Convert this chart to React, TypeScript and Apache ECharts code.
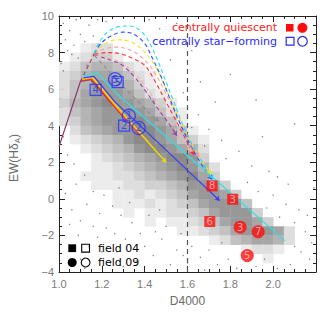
import React, { useEffect, useRef } from "react";
import * as echarts from "echarts";

// ---- 2D histogram (gray levels 0-8), D4000 bins of 0.05 from 1.00, EW bins of 0.5; first row = EW 8.0-8.5
const histD0 = 1.0;
const histBinW = 0.05;
const histBinH = 0.5;
const histTopEW = 8.0;
const histRows = [
  "001220000000000000000000",
  "012331000000000000000000",
  "124554210000000000000000",
  "235665421000000000000000",
  "245776531000000000000000",
  "246777642100000000000000",
  "356787765310000000000000",
  "245677776421000000000000",
  "235677787641000000000000",
  "024567788764100000000000",
  "012345788764310000000000",
  "001234578876520000000000",
  "000123456788730000000000",
  "000112345678752000000000",
  "001112234567863000000000",
  "000111223345776300000000",
  "000001121234677630000000",
  "000001112123467774000000",
  "000000101122346777300000",
  "000000001011234677630000",
  "000000000001123467776200",
  "000000000000001245665200",
  "000000000000000001221000",
  "000000000000000000010000",
];

// ---- scattered individual galaxies
const dots = [
  [1.02, 9.6], [1.05, 9.2], [1.08, 9.8], [1.03, 8.7], [1.07, 8.4], [1.1, 9.0], [1.12, 8.6], [1.04, 8.1],
  [1.09, 7.7], [1.01, 7.4], [1.06, 7.9], [1.14, 9.5], [1.18, 9.8], [1.22, 9.7], [1.16, 8.9], [1.42, 9.8],
  [1.47, 9.3], [1.55, 9.6], [1.13, 7.3], [1.02, 7.0],
  [1.62, 8.1], [1.66, 6.4], [1.73, 5.3], [1.8, 6.8], [1.92, 5.4], [1.65, 4.6], [1.7, 3.8], [1.76, 3.2],
  [1.62, 3.9], [1.84, 2.6], [1.95, 3.4], [2.1, 4.1], [1.68, 2.9], [1.78, 2.2], [1.9, 1.8], [2.02, 1.2],
  [1.58, 5.8], [1.52, 7.6],
  [1.88, 0.9], [1.93, 0.4], [2.0, 0.2], [2.06, -0.3], [2.12, -0.6], [1.97, -0.5], [2.03, -1.0], [2.1, -1.3],
  [2.15, -1.8], [2.18, -2.4], [2.13, -2.9], [2.17, -3.3], [2.08, -3.6], [2.1, -2.6], [2.16, -0.9], [2.19, 0.6],
  [1.98, 1.5], [2.07, 0.8],
  [1.62, -2.6], [1.66, -3.2], [1.7, -2.8], [1.74, -3.6], [1.79, -3.3], [1.83, -3.8], [1.92, -3.7], [1.96, -3.3],
  [2.02, -3.8], [1.6, -3.5], [1.68, -3.9], [1.76, -2.4],
  [1.06, -0.6], [1.1, -1.2], [1.13, -0.3], [1.16, 0.4], [1.08, 0.8], [1.12, 1.3], [1.19, -0.8], [1.22, -1.6],
  [1.25, -0.4], [1.18, -2.1], [1.14, -2.6], [1.1, -3.3], [1.27, -2.9], [1.31, -2.2], [1.34, -1.3], [1.29, -0.9],
  [1.36, -3.4], [1.4, -2.6], [1.44, -3.1], [1.48, -2.2], [1.52, -3.6], [1.55, -2.8], [1.57, -1.9], [1.5, -1.5],
  [1.45, -1.8], [1.38, -1.9], [1.24, -3.5], [1.2, -2.9], [1.16, -1.5], [1.09, -2.0], [1.05, -1.4], [1.03, 0.3],
  [1.07, 1.9], [1.04, 2.4], [1.33, -0.2], [1.21, 0.2], [1.28, 0.6], [1.26, -1.9], [1.42, -0.9], [1.47, -0.6],
  [1.58, -3.1], [1.12, -3.8], [1.3, -3.7], [1.02, 3.4], [1.01, 1.5],
];

// ---- dashed model tracks
const dashCyan = [[1.165, 7.95], [1.19, 8.6], [1.23, 9.15], [1.28, 9.42], [1.33, 9.45], [1.38, 9.2], [1.42, 8.6], [1.46, 7.6], [1.49, 6.7], [1.53, 5.5], [1.58, 4.0], [1.63, 2.8], [1.68, 1.8], [1.72, 1.1]];
const dashBlue = [[1.165, 7.95], [1.2, 8.55], [1.25, 8.95], [1.3, 9.12], [1.35, 9.0], [1.4, 8.5], [1.44, 7.6], [1.48, 6.6], [1.52, 5.4], [1.57, 4.0], [1.62, 2.8], [1.67, 1.8], [1.715, 1.05]];
const dashYellow = [[1.165, 7.95], [1.21, 8.45], [1.27, 8.7], [1.32, 8.65], [1.37, 8.35], [1.41, 7.9], [1.45, 7.25], [1.5, 6.0], [1.55, 4.7], [1.6, 3.5], [1.65, 2.4], [1.71, 1.35]];
const dashPink = [[1.165, 7.95], [1.21, 8.2], [1.27, 8.3], [1.33, 8.15], [1.38, 7.8], [1.43, 7.2], [1.48, 6.2], [1.53, 5.0], [1.58, 3.8], [1.62, 2.9], [1.655, 2.3]];
const dashRed = [[1.165, 7.9], [1.22, 8.0], [1.28, 7.95], [1.34, 7.7], [1.4, 7.3], [1.45, 6.4], [1.5, 5.3], [1.55, 4.2], [1.59, 3.3], [1.63, 2.4]];
const dashSalmon = [[1.165, 7.9], [1.22, 7.75], [1.28, 7.5], [1.34, 7.0], [1.4, 6.2], [1.46, 5.2], [1.52, 4.2], [1.58, 3.2], [1.62, 2.6]];
const dashPurple = [[1.165, 7.9], [1.2, 7.75], [1.25, 7.55], [1.29, 7.36], [1.35, 6.7], [1.41, 5.8], [1.47, 4.8], [1.52, 4.0], [1.55, 3.45]];
const dashGray = [[1.165, 7.85], [1.2, 7.4], [1.26, 6.63], [1.32, 5.9], [1.38, 5.2], [1.43, 4.6], [1.465, 4.25]];
const dashBrown = [[1.1, 6.42], [1.165, 7.95]];

// ---- solid model tracks
const trackBrown = [[1.0, 2.85], [1.1, 6.42], [1.148, 6.52], [1.22, 5.55], [1.3, 4.5]];
const trackRed = [[1.105, 6.47], [1.151, 6.57], [1.26, 5.05], [1.38, 3.45]];
const trackOrange = [[1.108, 6.52], [1.154, 6.61], [1.26, 5.12], [1.45, 2.62]];
const trackYellow = [[1.111, 6.56], [1.157, 6.65], [1.26, 5.2], [1.5, 2.0]];
const trackBlue = [[1.115, 6.62], [1.163, 6.7], [1.26, 5.32], [1.75, -0.1]];
const trackCyan = [[1.112, 6.74], [1.18, 6.88], [1.27, 5.75], [1.74, 0.95], [2.055, -2.3]];

// ---- galaxies: [D4000, EW(HdA), id]
const sfField04 = [[1.171, 5.96, "4"], [1.274, 6.38, "5"], [1.304, 4.0, "2"]];
const sfField09 = [[1.262, 6.54, "5"], [1.326, 4.54, "1"], [1.372, 3.88, "2"]];
const qField04 = [[1.715, 0.71, "8"], [1.811, -0.02, "3"], [1.704, -1.24, "6"]];
const qField09 = [[1.846, -1.55, "3"], [1.93, -1.8, "7"], [1.879, -3.1, "5"]];

const xTickMin = 1.0;
const xTickMax = 2.2;
const yTickMin = -4;
const yTickMax = 10;
const divideD4000 = 1.6;

const FONT = "DejaVu Sans";

function grayOf(level: number) {
  const g = Math.round(250 - 14 * level);
  return `rgb(${g},${g},${g})`;
}

function arrowSeg(pts: number[][]) {
  const b = pts[pts.length - 1];
  const a = pts[pts.length - 2];
  const t = 0.2;
  return [[b[0] - t * (b[0] - a[0]), b[1] - t * (b[1] - a[1])], b];
}

export default function App() {
  const ref = useRef<HTMLDivElement>(null);
  useEffect(() => {
    if (!ref.current) return;
    const chart = echarts.init(ref.current, null, { renderer: "svg" });

    const histData: number[][] = [];
    histRows.forEach((row, r) => {
      const ew = histTopEW - r * histBinH;
      for (let c = 0; c < row.length; c++) {
        const lv = Number(row[c]);
        if (lv > 0) histData.push([histD0 + c * histBinW, ew, lv]);
      }
    });

    const dashed = [
      { d: dashBrown, c: "#a03c64", arrow: false },
      { d: dashGray, c: "#8c8c8c", arrow: true },
      { d: dashPurple, c: "#9b3fb5", arrow: true },
      { d: dashSalmon, c: "#ffb0a0", arrow: true },
      { d: dashRed, c: "#ff3030", arrow: true },
      { d: dashPink, c: "#ff9c9c", arrow: true },
      { d: dashYellow, c: "#f2e21a", arrow: true },
      { d: dashBlue, c: "#2c4cff", arrow: true },
      { d: dashCyan, c: "#22dde8", arrow: true },
    ];
    const solid = [
      { d: trackBrown, c: "#8e3a68", arrow: false },
      { d: trackRed, c: "#ff2a2a", arrow: false },
      { d: trackOrange, c: "#ff9a1a", arrow: false },
      { d: trackYellow, c: "#eede00", arrow: true },
      { d: trackBlue, c: "#3a3aff", arrow: true },
      { d: trackCyan, c: "#2ee0e6", arrow: false },
    ];

    const series: any[] = [];
    series.push({
      type: "custom",
      coordinateSystem: "cartesian2d",
      data: histData,
      encode: { x: 0, y: 1 },
      clip: true,
      silent: true,
      z: 1,
      renderItem: (params: any, api: any) => {
        const x0 = api.value(0);
        const y0 = api.value(1);
        const lv = api.value(2);
        const p0 = api.coord([x0, y0 + histBinH]);
        const p1 = api.coord([x0 + histBinW, y0]);
        return {
          type: "rect",
          shape: { x: p0[0], y: p0[1], width: p1[0] - p0[0] + 0.4, height: p1[1] - p0[1] + 0.4 },
          style: { fill: grayOf(lv) },
        };
      },
    });
    series.push({
      type: "scatter",
      data: dots,
      symbolSize: 1.4,
      itemStyle: { color: "#666" },
      silent: true,
      z: 2,
    });
    series.push({
      type: "line",
      data: [[divideD4000, yTickMin], [divideD4000, yTickMax]],
      symbol: "none",
      lineStyle: { color: "#555", width: 1.2, type: [5, 4] },
      silent: true,
      z: 3,
    });
    dashed.forEach((s) => {
      series.push({
        type: "line",
        data: s.d,
        smooth: 0.35,
        symbol: "none",
        lineStyle: { color: s.c, width: 1.1, type: [4, 3] },
        silent: true,
        z: 4,
      });
    });
    solid.forEach((s) => {
      series.push({
        type: "line",
        data: s.d,
        symbol: "none",
        lineStyle: { color: s.c, width: 1.2 },
        silent: true,
        z: 5,
      });
    });
    const arrows = [...dashed, ...solid].filter((s) => s.arrow);
    series.push({
      type: "lines",
      coordinateSystem: "cartesian2d",
      symbol: ["none", "arrow"],
      symbolSize: 4.5,
      silent: true,
      z: 6,
      lineStyle: { width: 1, opacity: 1, curveness: 0 },
      data: arrows.map((s) => ({ coords: arrowSeg(s.d), lineStyle: { color: s.c } })),
    });

    const markerLabel = (color: string) => ({
      show: true,
      position: "inside",
      formatter: (p: any) => p.value[2],
      color,
      fontSize: 10,
      fontFamily: FONT,
    });
    series.push({
      type: "scatter", data: qField04, symbol: "rect", symbolSize: 11,
      itemStyle: { color: "#ff0d0d" }, label: markerLabel("#ffc4c4"), z: 8, silent: true,
    });
    series.push({
      type: "scatter", data: qField09, symbol: "circle", symbolSize: 13,
      itemStyle: { color: "#ff0d0d" }, label: markerLabel("#ffc4c4"), z: 8, silent: true,
    });
    series.push({
      type: "scatter", data: sfField04, symbol: "rect", symbolSize: 11,
      itemStyle: { color: "rgba(0,0,0,0)", borderColor: "#2233ff", borderWidth: 1.3 },
      label: markerLabel("#2233ff"), z: 8, silent: true,
    });
    series.push({
      type: "scatter", data: sfField09, symbol: "circle", symbolSize: 13,
      itemStyle: { color: "rgba(0,0,0,0)", borderColor: "#2233ff", borderWidth: 1.3 },
      label: markerLabel("#2233ff"), z: 8, silent: true,
    });

    const axisCommon = {
      type: "value",
      axisLine: { show: true, onZero: false, lineStyle: { color: "#222", width: 1 } },
      axisTick: { show: true, inside: true, length: 6, lineStyle: { color: "#222" } },
      minorTick: { show: true, splitNumber: 4, length: 3, lineStyle: { color: "#222" } },
      splitLine: { show: false },
    };
    const minus = (v: number) => (v < 0 ? "\u2212" + Math.abs(v) : String(v));

    chart.setOption({
      animation: false,
      backgroundColor: "#fff",
      grid: { left: 59, right: 16, top: 16, bottom: 38, containLabel: false },
      xAxis: [
        {
          ...axisCommon,
          position: "bottom",
          min: xTickMin, max: xTickMax, interval: 0.2,
          axisLabel: {
            color: "#7a7a7a", fontSize: 11, fontFamily: "Liberation Sans", margin: 6,
            showMaxLabel: false, formatter: (v: number) => v.toFixed(1),
          },
          name: "D4000", nameLocation: "middle", nameGap: 23,
          nameTextStyle: { color: "#6a6a6a", fontSize: 12, fontFamily: "Liberation Sans" },
        },
        {
          ...axisCommon,
          position: "top",
          min: xTickMin, max: xTickMax, interval: 0.2,
          axisLabel: { show: false },
        },
      ],
      yAxis: [
        {
          ...axisCommon,
          position: "left",
          min: yTickMin, max: yTickMax, interval: 2,
          axisLabel: {
            color: "#7a7a7a", fontSize: 11, fontFamily: "Liberation Sans", margin: 5,
            formatter: minus,
          },
        },
        {
          ...axisCommon,
          position: "right",
          min: yTickMin, max: yTickMax, interval: 2,
          axisLabel: { show: false },
        },
      ],
      graphic: [
        {
          type: "text", x: 14, y: 158, rotation: Math.PI / 2, z: 20,
          style: {
            text: "{a|EW(H\u03b4}{b|A}{a|)}",
            align: "center", verticalAlign: "middle",
            rich: {
              a: { fontSize: 12, fontFamily: "Liberation Sans", fill: "#6a6a6a", lineHeight: 16 },
              b: { fontSize: 8, fontFamily: "Liberation Sans", fill: "#6a6a6a", lineHeight: 16, padding: [7, 0, 0, 0] },
            },
          },
        },
        {
          type: "text", x: 277, y: 27.5, z: 20,
          style: { text: "centrally quiescent", fill: "#ff1a1a", fontSize: 11, fontFamily: FONT, align: "right", verticalAlign: "middle" },
        },
        {
          type: "text", x: 277, y: 41.3, z: 20,
          style: { text: "centrally star\u2212forming", fill: "#2a2aff", fontSize: 11, fontFamily: FONT, align: "right", verticalAlign: "middle" },
        },
        { type: "rect", z: 20, shape: { x: 286, y: 24, width: 7.5, height: 7.5 }, style: { fill: "#ff0d0d" } },
        { type: "circle", z: 20, shape: { cx: 302.4, cy: 27.8, r: 5 }, style: { fill: "#ff0d0d" } },
        { type: "rect", z: 20, shape: { x: 286.2, y: 37.3, width: 7.8, height: 7.8 }, style: { fill: "none", stroke: "#2a2aff", lineWidth: 1.2 } },
        { type: "circle", z: 20, shape: { cx: 302.5, cy: 41.3, r: 4.8 }, style: { fill: "none", stroke: "#2a2aff", lineWidth: 1.2 } },
        { type: "rect", z: 20, shape: { x: 68.3, y: 244.3, width: 7.8, height: 7.8 }, style: { fill: "#000" } },
        { type: "rect", z: 20, shape: { x: 81.7, y: 244.3, width: 7.8, height: 7.8 }, style: { fill: "none", stroke: "#000", lineWidth: 1.1 } },
        { type: "circle", z: 20, shape: { cx: 72.2, cy: 262.5, r: 4.5 }, style: { fill: "#000" } },
        { type: "circle", z: 20, shape: { cx: 85.6, cy: 262.5, r: 4.4 }, style: { fill: "none", stroke: "#000", lineWidth: 1.1 } },
        {
          type: "text", x: 98, y: 248.2, z: 20,
          style: { text: "field 04", fill: "#000", fontSize: 11, fontFamily: FONT, align: "left", verticalAlign: "middle" },
        },
        {
          type: "text", x: 98, y: 262, z: 20,
          style: { text: "field 09", fill: "#000", fontSize: 11, fontFamily: FONT, align: "left", verticalAlign: "middle" },
        },
      ],
      series,
    });
    return () => chart.dispose();
  }, []);
  return (
    <div
      ref={ref}
      style={{ position: "fixed", left: 0, top: 0, width: 332, height: 312, background: "#fff" }}
    />
  );
}
